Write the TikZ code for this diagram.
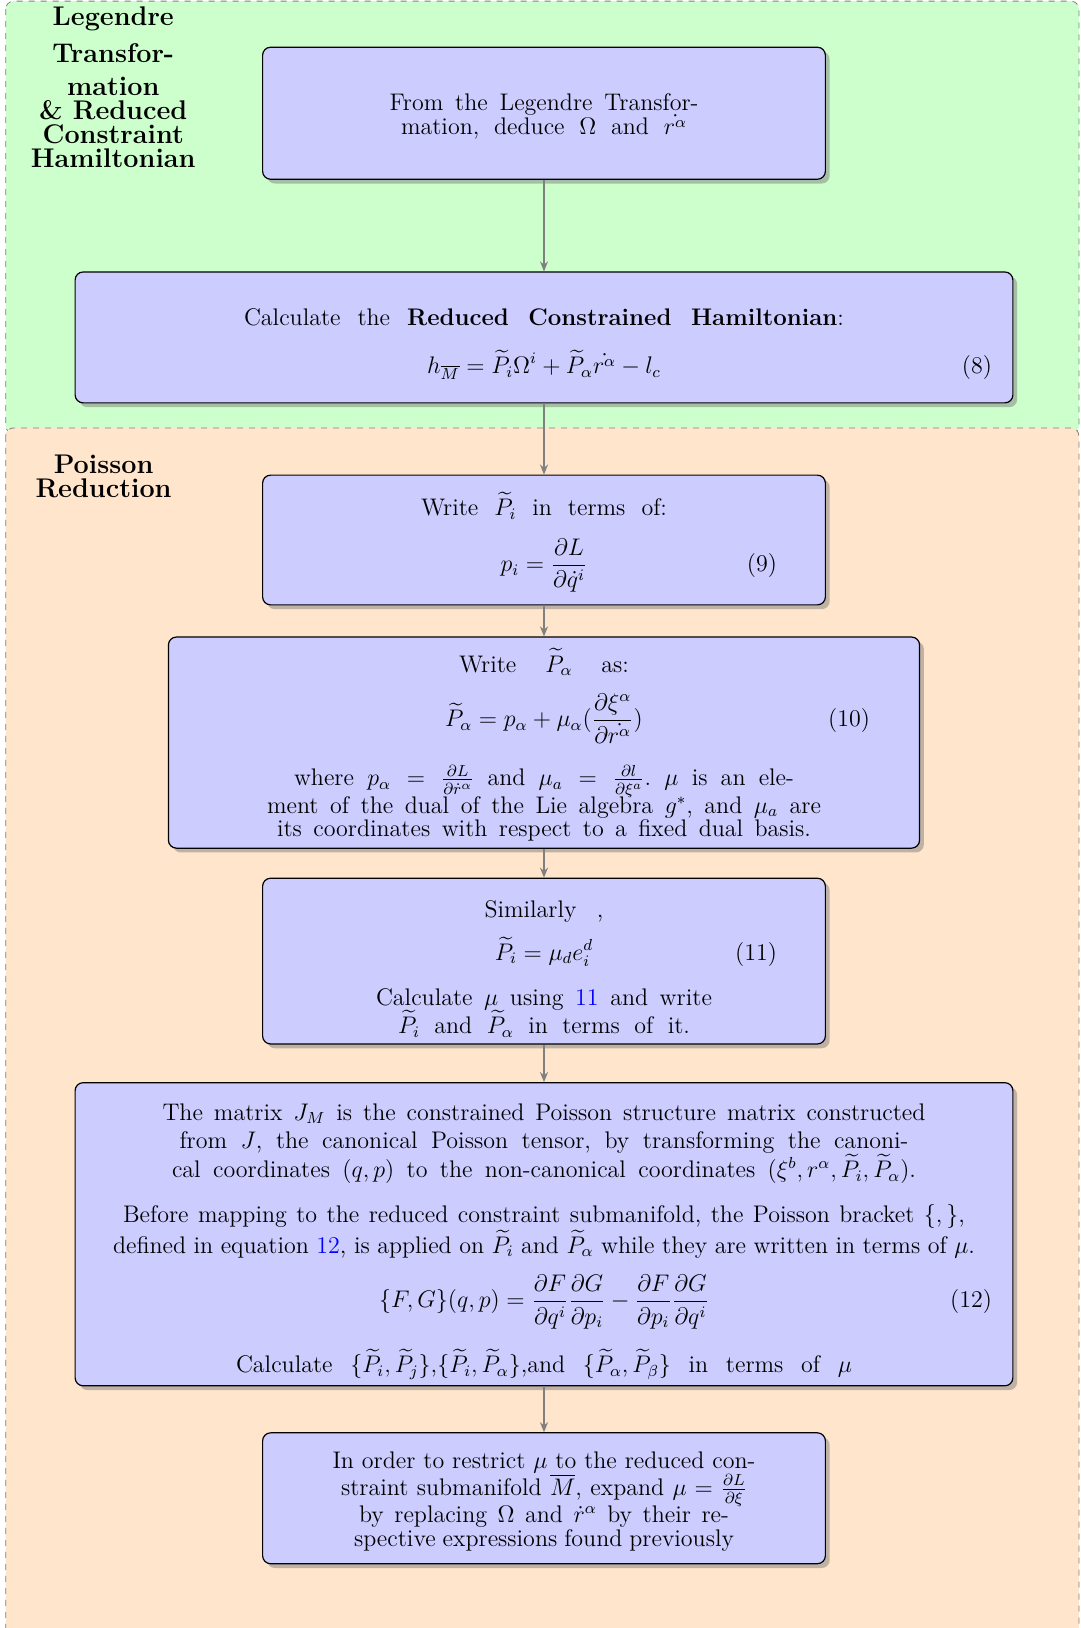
\documentclass[tikz,border=0pt]{standalone}
\usepackage{amsmath,amssymb}
\usepackage{tikz}
\usetikzlibrary{arrows.meta,shadows}

\newcommand{\bodyfont}{\fontsize{12}{14}\selectfont}
\newcommand{\titlefont}{\fontsize{13.5}{12}\selectfont\bfseries}
\newcommand{\jline}[2]{{\frenchspacing\spaceskip=0pt\xspaceskip=0pt\makebox[#1][s]{#2}}}
\newcommand{\eqline}[2]{\makebox[\linewidth]{\hfill$\displaystyle #1$\hfill\llap{(#2)}}}

\begin{document}
\begin{tikzpicture}[x=1.0cm,y=1.0cm,
  arr/.style={-{Stealth[length=5pt,width=4pt]},gray,thick},
  stepbox/.style={draw,semithick,rounded corners=4pt,fill=blue!20,drop shadow,align=center,font=\bodyfont},
  textdrop/.style={execute at begin node={\rule{0pt}{#1}}},
  region/.style={draw=gray,dashed,rounded corners=4pt},
  regiontitle/.style={font=\titlefont,align=center,anchor=north,inner sep=0pt}]
\useasboundingbox (0,0) rectangle (18.98,-28.61);
% backgrounds
\draw[region,fill=green!20] (0.10,-0.02) rectangle (18.96,-7.62);
\draw[region,fill=orange!20] (0.10,-7.52) rectangle (18.96,-29.50);
\node[regiontitle] (ltitle) at (1.99,-0.11) {Legendre\\[5.5pt]Transfor-\\[4.5pt]mation\\\& Reduced\\Constraint\\Hamiltonian};
\node[regiontitle] (ptitle) at (1.82,-7.99) {Poisson\\Reduction};
% steps
\node[stepbox,minimum width=9.89cm,minimum height=2.32cm,text width=240pt,textdrop=11.5pt] (legendre) at (9.56,-1.99) {%
  \jline{154.5pt}{From the Legendre Transfor-}\\[-2pt]
  \jline{143pt}{mation, deduce $\Omega$ and $\dot{r^\alpha}$}};
\node[stepbox,minimum width=16.48cm,minimum height=2.30cm,text width=448pt,textdrop=15.1pt] (hamilton) at (9.56,-5.93) {%
  \jline{300pt}{Calculate the \textbf{Reduced Constrained Hamiltonian}:}\\[10pt]
  \eqline{h_{\overline{M}} = \widetilde{P}_i\Omega^i + \widetilde{P}_\alpha\dot{r^\alpha} - l_c}{8}};
\node[stepbox,minimum width=9.89cm,minimum height=2.28cm,text width=233pt,textdrop=14.2pt] (ptilde) at (9.56,-9.49) {%
  \jline{123pt}{Write $\widetilde{P}_i$ in terms of:}\\[8.5pt]
  \eqline{p_i = \frac{\partial L}{\partial\dot{q}^i}}{9}};
\node[stepbox,minimum width=13.20cm,minimum height=3.71cm,text width=326pt,textdrop=13.8pt] (palpha) at (9.56,-13.05) {%
  \jline{85pt}{Write $\widetilde{P}_\alpha$ as:}\\[8pt]
  \eqline{\widetilde{P}_\alpha = p_\alpha + \mu_\alpha(\frac{\partial\xi^\alpha}{\partial\dot{r^\alpha}})}{10}\\[10pt]
  \jline{250pt}{where $p_\alpha = \frac{\partial L}{\partial\dot{r}^\alpha}$ and $\mu_a = \frac{\partial l}{\partial\xi^a}$. $\mu$ is an ele-}\\[-1.5pt]
  \jline{277pt}{ment of the dual of the Lie algebra $g^*$, and $\mu_a$ are}\\[-2.5pt]
  \jline{267pt}{its coordinates with respect to a fixed dual basis.}};
\node[stepbox,minimum width=9.89cm,minimum height=2.85cm,text width=233pt,textdrop=16.1pt] (similarly) at (9.56,-16.89) {%
  \jline{59.5pt}{Similarly ,}\\[6.5pt]
  \eqline{\widetilde{P}_i = \mu_d e_i^d}{11}\\[8.5pt]
  \jline{168pt}{Calculate $\mu$ using \textcolor{blue}{11} and write}\\[-1pt]
  \jline{146pt}{$\widetilde{P}_i$ and $\widetilde{P}_\alpha$ in terms of it.}};
\node[stepbox,minimum width=16.48cm,minimum height=5.27cm,text width=448pt,textdrop=15.5pt] (bracket) at (9.56,-21.69) {%
  \jline{381.5pt}{The matrix $J_M$ is the constrained Poisson structure matrix constructed}\\
  \jline{364.5pt}{from $J$, the canonical Poisson tensor, by transforming the canoni-}\\[-0.5pt]
  \jline{372pt}{cal coordinates $(q,p)$ to the non-canonical coordinates $(\xi^b, r^\alpha, \widetilde{P}_i, \widetilde{P}_\alpha)$.}\\[8.5pt]
  \jline{421pt}{Before mapping to the reduced constraint submanifold, the Poisson bracket $\{,\}$,}\\[-0.5pt]
  \jline{431pt}{defined in equation \textcolor{blue}{12}, is applied on $\widetilde{P}_i$ and $\widetilde{P}_\alpha$ while they are written in terms of $\mu$.}\\[7.5pt]
  \eqline{\{F,G\}(q,p) = \frac{\partial F}{\partial q^i}\frac{\partial G}{\partial p_i} - \frac{\partial F}{\partial p_i}\frac{\partial G}{\partial q^i}}{12}\\[9pt]
  \jline{308pt}{Calculate $\{\widetilde{P}_i,\widetilde{P}_j\}$,$\{\widetilde{P}_i,\widetilde{P}_\alpha\}$,and $\{\widetilde{P}_\alpha,\widetilde{P}_\beta\}$ in terms of $\mu$}};
\node[stepbox,minimum width=9.89cm,minimum height=2.30cm,text width=240pt,textdrop=11.5pt] (restrict) at (9.56,-26.33) {%
  \jline{211.5pt}{In order to restrict $\mu$ to the reduced con-}\\[-0.5pt]
  \jline{203pt}{straint submanifold $\overline{M}$, expand $\mu = \frac{\partial L}{\partial\xi}$}\\[-1.5pt]
  \jline{185pt}{by replacing $\Omega$ and $\dot{r}^\alpha$ by their re-}\\[-2pt]
  \jline{190pt}{spective expressions found previously}};
% connectors
\draw[arr] (legendre) -- (hamilton);
\draw[arr] (hamilton) -- (ptilde);
\draw[arr] (ptilde) -- (palpha);
\draw[arr] (palpha) -- (similarly);
\draw[arr] (similarly) -- (bracket);
\draw[arr] (bracket) -- (restrict);
\end{tikzpicture}
\end{document}
